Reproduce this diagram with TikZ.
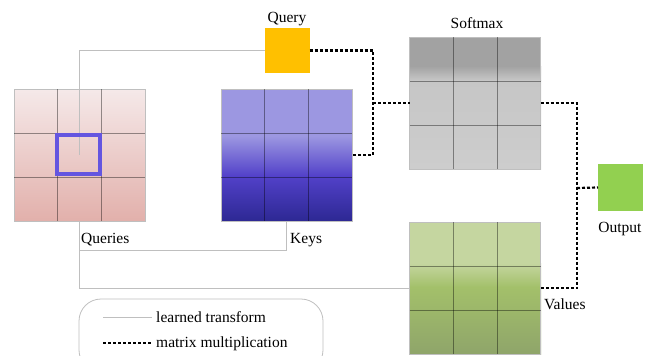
\documentclass[tikz,border=0pt]{standalone}
\usepackage{fontspec}
\setmainfont{Liberation Serif}
\usetikzlibrary{calc}
\definecolor{qtop}{HTML}{F5E9E9}
\definecolor{qbot}{HTML}{E2B0AB}
\definecolor{ktop}{HTML}{9C97E1}
\definecolor{kmid}{HTML}{5241C9}
\definecolor{kbot}{HTML}{2D2893}
\definecolor{stop}{HTML}{A2A2A2}
\definecolor{smid}{HTML}{C6C6C6}
\definecolor{sbot}{HTML}{CDCDCD}
\definecolor{vtop}{HTML}{C5D6A0}
\definecolor{vmid}{HTML}{A3C06A}
\definecolor{vbot}{HTML}{8FA56A}
\definecolor{hlblue}{HTML}{6455E0}
\definecolor{qyellow}{HTML}{FFC000}
\definecolor{ogreen}{HTML}{92D050}
\begin{document}
\begin{tikzpicture}[x=1pt,y=-1pt,
  mat/.style={draw=black!25, line width=0.6pt, minimum width=131pt, minimum height=132pt, inner sep=0pt, outer sep=0pt},
  gridln/.style={draw=black, draw opacity=0.4, line width=0.6pt},
  learned/.style={draw=black!25, line width=0.9pt},
  matmul/.style={draw=black, line width=2.2pt, dash pattern=on 3pt off 2pt},
  smallbox/.style={minimum width=45pt, minimum height=45pt, inner sep=0pt, outer sep=0pt},
  lbl/.style={font=\fontsize{15.5}{18}\selectfont, inner sep=0pt}]
\useasboundingbox (0,0) rectangle (656,356);

% matrix colour fills
\shade[top color=qtop, bottom color=qbot] (14,89) rectangle (145,221);
\fill[ktop] (221,89) rectangle (352,136);
\shade[top color=ktop, bottom color=kmid] (221,136) rectangle (352,176);
\shade[top color=kmid, bottom color=kbot] (221,176) rectangle (352,221);
\fill[stop] (409,37) rectangle (541,66);
\shade[top color=stop, bottom color=smid] (409,66) rectangle (541,80);
\shade[top color=smid, bottom color=sbot] (409,80) rectangle (541,169);
\fill[vtop] (409,222) rectangle (541,263);
\shade[top color=vtop, bottom color=vmid] (409,263) rectangle (541,287);
\shade[top color=vmid, bottom color=vbot] (409,287) rectangle (541,354);

% matrices
\node[mat] (Q) at (79.5,155) {};
\node[mat] (K) at (286.5,155) {};
\node[mat] (S) at (475,103) {};
\node[mat] (V) at (475,288) {};

% 3x3 grids
\foreach \m in {Q,K,S,V}{
  \foreach \f in {1/3,2/3}{
    \draw[gridln] ($(\m.north west)!\f!(\m.north east)$) -- ($(\m.south west)!\f!(\m.south east)$);
    \draw[gridln] ($(\m.north west)!\f!(\m.south west)$) -- ($(\m.north east)!\f!(\m.south east)$);
  }
}

% query vector and output vector
\node[smallbox, fill=qyellow] (qb) at (287,50.5) {};
\node[smallbox, fill=ogreen, minimum height=47pt] (ob) at (620.5,187.5) {};

% labels
\node[lbl, anchor=base] at (287,22.5) {Query};
\node[lbl, anchor=base] at (477,28) {Softmax};
\node[lbl, anchor=base west] at (81,243) {Queries};
\node[lbl, anchor=base west] at (290,243) {Keys};
\node[lbl, anchor=base] at (620,232) {Output};
\node[lbl, anchor=base west] at (544,309) {Values};

% learned transforms
\draw[learned] (qb.west) -| (Q.center);
\draw[learned] (Q.south) -- ++(0,29) -| (K.south);
\draw[learned] (Q.south) |- (V.west);

% highlighted query row
\node[draw=hlblue, line width=4pt, minimum width=43pt, minimum height=39pt, inner sep=0pt] (hl) at (78.5,154.5) {};

% matrix multiplications
\coordinate (j1) at (373,103);
\coordinate (j2) at (577,188);
\draw[matmul] (qb.east) -| (j1) |- (K.east);
\draw[matmul] (j1) -- (S.west);
\draw[matmul] (S.east) -| (j2) |- (V.east);
\draw[matmul] (j2) -- (ob.west);

% legend
\draw[black!25, line width=0.8pt, rounded corners=22pt] (79,299) rectangle (323,372);
\coordinate (l1a) at (103,317);
\coordinate (l1b) at (152,317);
\coordinate (l2a) at (103,343);
\coordinate (l2b) at (152,343);
\draw[learned] (l1a) -- (l1b);
\draw[matmul] (l2a) -- (l2b);
\node[lbl, anchor=base west] at (156,322) {learned transform};
\node[lbl, anchor=base west] at (156,347) {matrix multiplication};
\end{tikzpicture}
\end{document}
